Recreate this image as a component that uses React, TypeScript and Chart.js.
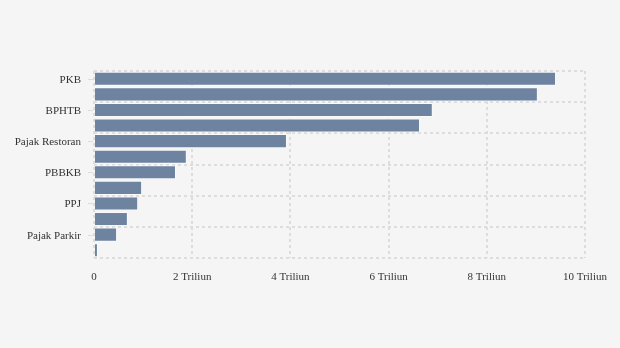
import React, { useEffect, useRef } from "react";
import { Chart, registerables } from "chart.js";

Chart.register(...registerables);

const categories = [
  "PKB",
  "BBNKB",
  "BPHTB",
  "PBB-P2",
  "Pajak Restoran",
  "Pajak Hotel",
  "PBBKB",
  "Pajak Hiburan",
  "PPJ",
  "Pajak Reklame",
  "Pajak Parkir",
  "Pajak Air Tanah",
];
const values = [9.41, 9.04, 6.9, 6.64, 3.93, 1.89, 1.67, 0.98, 0.9, 0.69, 0.47, 0.08];
const xTickLabels: Record<number, string> = {
  0: "0",
  2: "2 Triliun",
  4: "4 Triliun",
  6: "6 Triliun",
  8: "8 Triliun",
  10: "10 Triliun",
};

const FONT = { family: "'Liberation Serif', 'Times New Roman', serif", size: 11 };
const GRID = "#dddddd";

const yTickMarks = {
  id: "yTickMarks",
  afterDraw(chart: any) {
    const y = chart.scales.y;
    const ctx = chart.ctx;
    const left = chart.chartArea.left;
    ctx.save();
    ctx.strokeStyle = "#dcdcdc";
    ctx.lineWidth = 1;
    y.ticks.forEach((_t: any, i: number) => {
      if (i % 2 !== 0) return;
      const py = Math.round(y.getPixelForTick(i)) + 0.5;
      ctx.beginPath();
      ctx.moveTo(left - 6, py);
      ctx.lineTo(left - 1, py);
      ctx.stroke();
    });
    ctx.restore();
  },
};

export default function App() {
  const ref = useRef<HTMLCanvasElement>(null);
  useEffect(() => {
    document.body.style.margin = "0";
    const chart = new Chart(ref.current!, {
      type: "bar",
      data: {
        labels: categories,
        datasets: [
          {
            data: values,
            backgroundColor: "#6d83a0",
            borderColor: "rgba(250,250,250,0.85)",
            borderWidth: 1,
            barPercentage: 0.9,
            categoryPercentage: 1,
          },
        ],
      },
      options: {
        indexAxis: "y",
        animation: false,
        responsive: false,
        maintainAspectRatio: false,
        layout: { padding: { top: 71, right: 35, bottom: 0, left: 0 } },
        plugins: { legend: { display: false }, tooltip: { enabled: false } },
        scales: {
          x: {
            min: 0,
            max: 10,
            afterFit: (s: any) => {
              s.height = 90;
            },
            ticks: {
              stepSize: 2,
              padding: 13,
              color: "#333",
              font: FONT,
              maxRotation: 0,
              callback: (v: any) => xTickLabels[Number(v)] ?? "",
            },
            grid: { color: GRID, drawTicks: false, lineWidth: 2 },
            border: { display: false, dash: [3, 3] },
          },
          y: {
            afterFit: (s: any) => {
              s.width = 94;
            },
            ticks: {
              autoSkip: false,
              padding: 13,
              labelOffset: 1,
              color: "#333",
              font: FONT,
              callback: (_v: any, i: number) => (i % 2 === 0 ? categories[i] : ""),
            },
            grid: {
              offset: true,
              drawTicks: false,
              lineWidth: 2,
              color: (c: any) =>
                c.index === undefined || c.index % 2 === 0 ? GRID : "rgba(0,0,0,0)",
            },
            border: { display: false, dash: [3, 3] },
          },
        },
      },
      plugins: [yTickMarks],
    });
    return () => chart.destroy();
  }, []);
  return (
    <div style={{ width: 620, height: 348, background: "#f5f5f5", position: "relative" }}>
      <canvas ref={ref} width={620} height={348} style={{ display: "block" }} />
    </div>
  );
}
